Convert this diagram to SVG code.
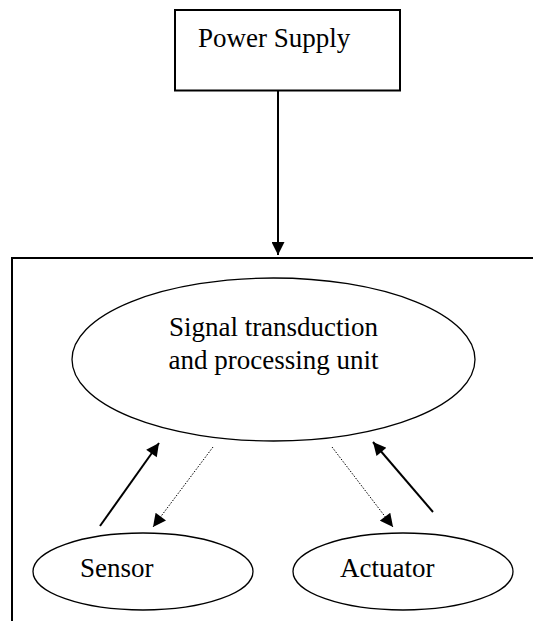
<svg xmlns="http://www.w3.org/2000/svg" width="533" height="621" viewBox="0 0 533 621">
<style>
  .box { fill: #fff; stroke: #000; stroke-width: 2; }
  .ell { fill: #fff; stroke: #000; stroke-width: 1.3; }
  .lbl { font-size: 27px; fill: #000; }
  .solid { stroke: #000; stroke-width: 2; fill: none; }
  .dot { stroke: #000; stroke-width: 1; stroke-dasharray: 1.5 1.5; fill: none; }
</style>
<defs>
  <marker id="ah" viewBox="0 0 10 10" refX="10" refY="5" markerUnits="userSpaceOnUse" markerWidth="15" markerHeight="13" orient="auto">
    <path d="M0,0 L10,5 L0,10 Z" fill="#000"/>
  </marker>
</defs>
<rect width="533" height="621" fill="#fff"/>
<g id="system-boundary">
  <path class="box" d="M12,640 L12,258 L545,258" fill="none"/>
</g>
<g font-family="'Liberation Serif', 'DejaVu Serif', serif">
<g id="power-supply">
  <rect class="box" x="175" y="10" width="225" height="80.5"/>
  <text class="lbl" x="198" y="47">Power Supply</text>
</g>
<g id="processing-unit">
  <ellipse class="ell" cx="273.5" cy="359.5" rx="201.5" ry="81.5"/>
  <text class="lbl" x="273.5" y="336" text-anchor="middle">Signal transduction</text>
  <text class="lbl" x="273.5" y="369" text-anchor="middle">and processing unit</text>
</g>
<g id="sensor">
  <ellipse class="ell" cx="143" cy="571.5" rx="110" ry="38.5"/>
  <text class="lbl" x="80" y="577">Sensor</text>
</g>
<g id="actuator">
  <ellipse class="ell" cx="403" cy="571.5" rx="110" ry="38.5"/>
  <text class="lbl" x="340" y="577">Actuator</text>
</g>
</g>
<g id="connectors">
  <line class="solid" x1="278" y1="91" x2="278" y2="255" marker-end="url(#ah)"/>
  <line class="solid" x1="100" y1="526" x2="159" y2="443" marker-end="url(#ah)"/>
  <line class="dot" x1="213" y1="447" x2="153" y2="527" marker-end="url(#ah)"/>
  <line class="dot" x1="332" y1="447" x2="393" y2="527" marker-end="url(#ah)"/>
  <line class="solid" x1="433" y1="512" x2="373" y2="442" marker-end="url(#ah)"/>
</g>
</svg>
